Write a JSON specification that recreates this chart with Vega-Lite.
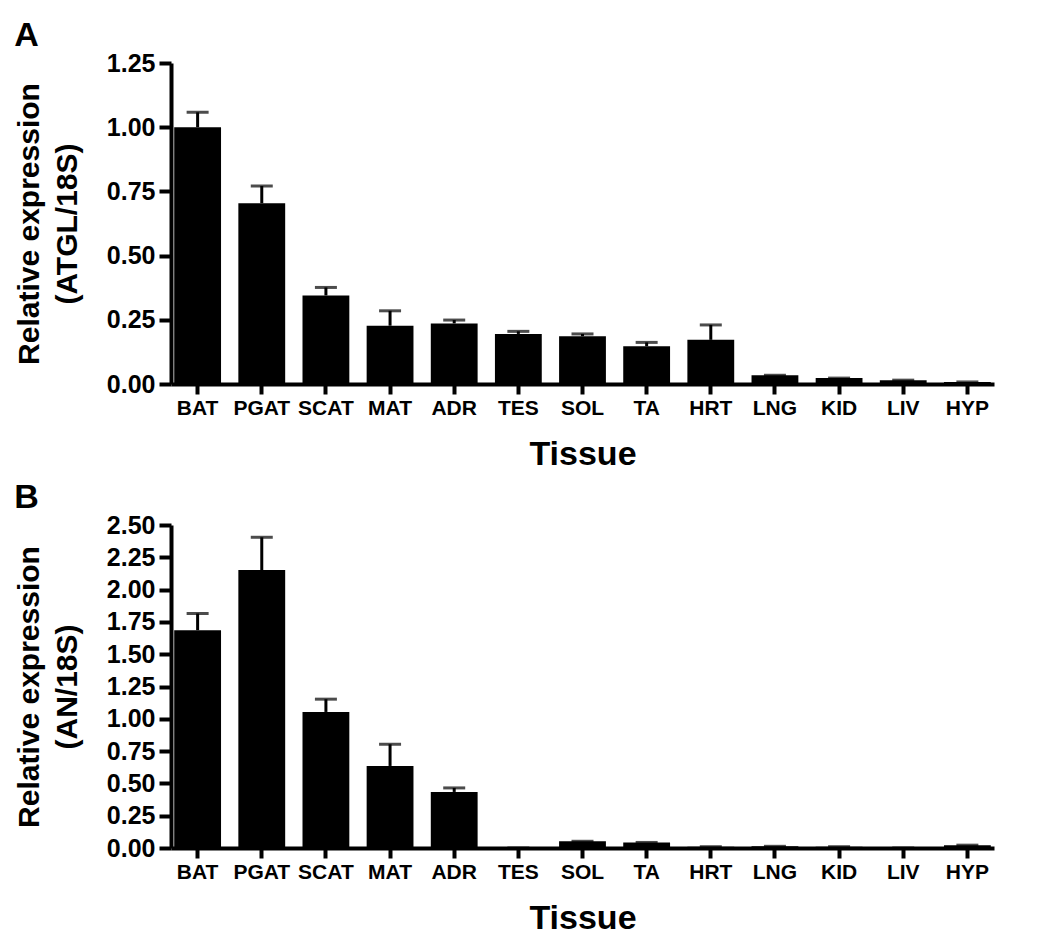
{
  "$schema": "https://vega.github.io/schema/vega-lite/v6.json",
  "padding": {"left": 14, "top": 19, "right": 10, "bottom": 5},
  "background": "white",
  "spacing": 10,
  "config": {
    "font": "Liberation Sans",
    "view": {"stroke": null},
    "axis": {
      "domainColor": "black", "domainWidth": 4, "tickColor": "black", "tickWidth": 4,
      "labelColor": "black", "labelFontWeight": "bold", "titleColor": "black", "titleFontWeight": "bold",
      "grid": false, "labelOverlap": false
    },
    "axisX": {"labelFontSize": 21, "labelAngle": 0, "tickSize": 10, "labelPadding": 3, "titleFontSize": 34, "titlePadding": 19},
    "axisY": {"labelFontSize": 25, "tickSize": 12, "labelPadding": 4, "titleFontSize": 30, "titlePadding": 24, "titleLineHeight": 38},
    "title": {"fontSize": 34, "fontWeight": "bold", "color": "black", "anchor": "start", "frame": "bounds", "offset": -2}
  },
  "vconcat": [
    {
      "title": "A",
      "width": 823,
      "height": 321,
      "data": {"values": [
        {"tissue": "BAT", "mean": 1.0, "upper": 1.058},
        {"tissue": "PGAT", "mean": 0.704, "upper": 0.771},
        {"tissue": "SCAT", "mean": 0.345, "upper": 0.376},
        {"tissue": "MAT", "mean": 0.227, "upper": 0.285},
        {"tissue": "ADR", "mean": 0.236, "upper": 0.249},
        {"tissue": "TES", "mean": 0.195, "upper": 0.205},
        {"tissue": "SOL", "mean": 0.186, "upper": 0.195},
        {"tissue": "TA", "mean": 0.147, "upper": 0.162},
        {"tissue": "HRT", "mean": 0.172, "upper": 0.23},
        {"tissue": "LNG", "mean": 0.034, "upper": 0.034},
        {"tissue": "KID", "mean": 0.023, "upper": 0.023},
        {"tissue": "LIV", "mean": 0.015, "upper": 0.015},
        {"tissue": "HYP", "mean": 0.008, "upper": 0.008}
      ]},
      "encoding": {
        "x": {"field": "tissue", "type": "nominal", "sort": null,
              "scale": {"paddingInner": 0.27, "paddingOuter": 0.05},
              "axis": {"title": "Tissue"}}
      },
      "layer": [
        {"mark": {"type": "bar", "color": "black"},
         "encoding": {"y": {"field": "mean", "type": "quantitative",
           "scale": {"domain": [0, 1.25], "nice": false},
           "axis": {"title": ["Relative expression", "(ATGL/18S)"], "values": [0, 0.25, 0.5, 0.75, 1.0, 1.25], "format": ".2f"}}}},
        {"mark": {"type": "rule", "color": "black", "strokeWidth": 3},
         "encoding": {"y": {"field": "mean", "type": "quantitative",
           "axis": {"title": ["Relative expression", "(ATGL/18S)"], "values": [0, 0.25, 0.5, 0.75, 1.0, 1.25], "format": ".2f"}},
           "y2": {"field": "upper"}}},
        {"mark": {"type": "tick", "color": "black", "thickness": 3, "size": 22},
         "encoding": {"y": {"field": "upper", "type": "quantitative",
           "axis": {"title": ["Relative expression", "(ATGL/18S)"], "values": [0, 0.25, 0.5, 0.75, 1.0, 1.25], "format": ".2f"}}}}
      ]
    },
    {
      "title": "B",
      "width": 823,
      "height": 323,
      "data": {"values": [
        {"tissue": "BAT", "mean": 1.686, "upper": 1.815},
        {"tissue": "PGAT", "mean": 2.151, "upper": 2.405},
        {"tissue": "SCAT", "mean": 1.053, "upper": 1.152},
        {"tissue": "MAT", "mean": 0.635, "upper": 0.803},
        {"tissue": "ADR", "mean": 0.434, "upper": 0.465},
        {"tissue": "TES", "mean": 0.0, "upper": 0.0},
        {"tissue": "SOL", "mean": 0.052, "upper": 0.052},
        {"tissue": "TA", "mean": 0.043, "upper": 0.043},
        {"tissue": "HRT", "mean": 0.01, "upper": 0.01},
        {"tissue": "LNG", "mean": 0.013, "upper": 0.013},
        {"tissue": "KID", "mean": 0.01, "upper": 0.01},
        {"tissue": "LIV", "mean": 0.0, "upper": 0.0},
        {"tissue": "HYP", "mean": 0.022, "upper": 0.022}
      ]},
      "encoding": {
        "x": {"field": "tissue", "type": "nominal", "sort": null,
              "scale": {"paddingInner": 0.27, "paddingOuter": 0.05},
              "axis": {"title": "Tissue"}}
      },
      "layer": [
        {"mark": {"type": "bar", "color": "black"},
         "encoding": {"y": {"field": "mean", "type": "quantitative",
           "scale": {"domain": [0, 2.5], "nice": false},
           "axis": {"title": ["Relative expression", "(AN/18S)"], "values": [0, 0.25, 0.5, 0.75, 1.0, 1.25, 1.5, 1.75, 2.0, 2.25, 2.5], "format": ".2f"}}}},
        {"mark": {"type": "rule", "color": "black", "strokeWidth": 3},
         "encoding": {"y": {"field": "mean", "type": "quantitative",
           "axis": {"title": ["Relative expression", "(AN/18S)"], "values": [0, 0.25, 0.5, 0.75, 1.0, 1.25, 1.5, 1.75, 2.0, 2.25, 2.5], "format": ".2f"}},
           "y2": {"field": "upper"}}},
        {"mark": {"type": "tick", "color": "black", "thickness": 3, "size": 22},
         "encoding": {"y": {"field": "upper", "type": "quantitative",
           "axis": {"title": ["Relative expression", "(AN/18S)"], "values": [0, 0.25, 0.5, 0.75, 1.0, 1.25, 1.5, 1.75, 2.0, 2.25, 2.5], "format": ".2f"}}}}
      ]
    }
  ]
}
